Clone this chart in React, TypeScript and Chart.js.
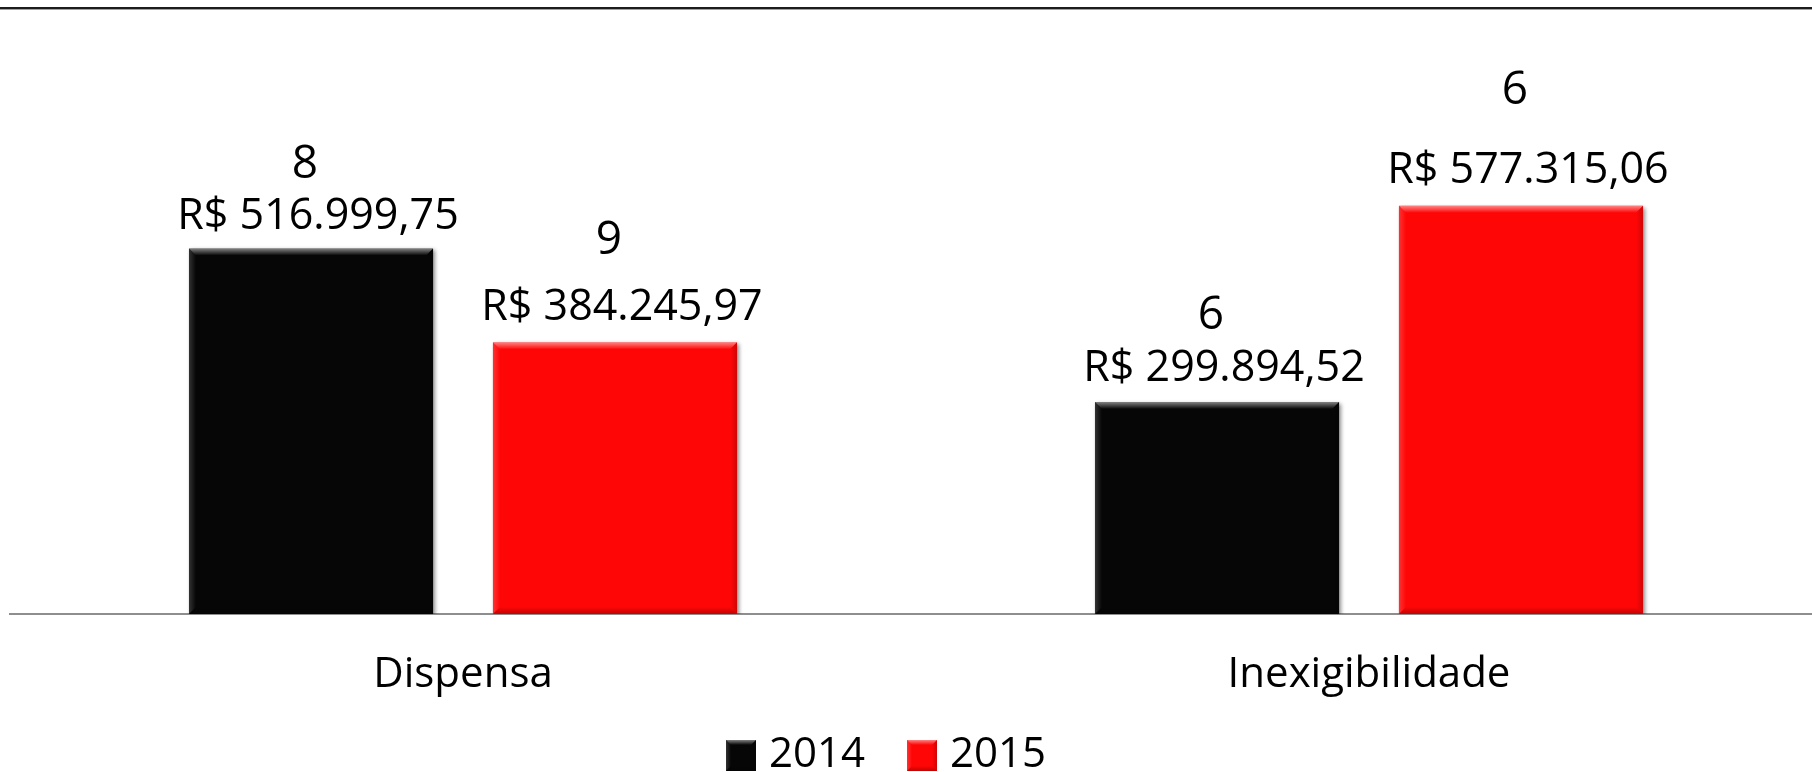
import React, { useEffect, useRef } from "react";
import { Chart, registerables } from "chart.js";

Chart.register(...registerables);

// ---- data ----
const categories = ["Dispensa", "Inexigibilidade"];
const years = ["2014", "2015"];
const amounts2014 = [516999.75, 299894.52];
const amounts2015 = [384245.97, 577315.06];
const counts2014 = [8, 6];
const counts2015 = [9, 6];
const countsBySeries = [counts2014, counts2015];
const seriesColors = ["#060606", "#ff0606"];

const FONT = "'Open Sans', 'Noto Sans', sans-serif";

function formatBRL(v: number): string {
  const [intPart, dec] = v.toFixed(2).split(".");
  const withDots = intPart.replace(/\B(?=(\d{3})+(?!\d))/g, ".");
  return `R$ ${withDots},${dec}`;
}

function drawBevel(ctx: CanvasRenderingContext2D, l: number, t: number, r: number, b: number, bv: number) {
  ctx.save();
  const gt = ctx.createLinearGradient(0, t, 0, t + bv);
  gt.addColorStop(0, "rgba(255,255,255,0.5)");
  gt.addColorStop(1, "rgba(255,255,255,0)");
  ctx.fillStyle = gt;
  ctx.beginPath();
  ctx.moveTo(l, t);
  ctx.lineTo(r, t);
  ctx.lineTo(r - bv, t + bv);
  ctx.lineTo(l + bv, t + bv);
  ctx.closePath();
  ctx.fill();
  const gl = ctx.createLinearGradient(l, 0, l + bv, 0);
  gl.addColorStop(0, "rgba(255,255,255,0.18)");
  gl.addColorStop(1, "rgba(255,255,255,0)");
  ctx.fillStyle = gl;
  ctx.beginPath();
  ctx.moveTo(l, t);
  ctx.lineTo(l + bv, t + bv);
  ctx.lineTo(l + bv, b - bv);
  ctx.lineTo(l, b);
  ctx.closePath();
  ctx.fill();
  const gr = ctx.createLinearGradient(r - bv, 0, r, 0);
  gr.addColorStop(0, "rgba(0,0,0,0)");
  gr.addColorStop(1, "rgba(0,0,0,0.18)");
  ctx.fillStyle = gr;
  ctx.beginPath();
  ctx.moveTo(r, t);
  ctx.lineTo(r - bv, t + bv);
  ctx.lineTo(r - bv, b - bv);
  ctx.lineTo(r, b);
  ctx.closePath();
  ctx.fill();
  const gb = ctx.createLinearGradient(0, b - bv, 0, b);
  gb.addColorStop(0, "rgba(0,0,0,0)");
  gb.addColorStop(1, "rgba(0,0,0,0.25)");
  ctx.fillStyle = gb;
  ctx.beginPath();
  ctx.moveTo(l, b);
  ctx.lineTo(r, b);
  ctx.lineTo(r - bv, b - bv);
  ctx.lineTo(l + bv, b - bv);
  ctx.closePath();
  ctx.fill();
  ctx.restore();
}

function makeSwatch(color: string): HTMLCanvasElement {
  const c = document.createElement("canvas");
  c.width = 30;
  c.height = 31;
  const ctx = c.getContext("2d") as CanvasRenderingContext2D;
  ctx.fillStyle = color;
  ctx.fillRect(0, 0, 30, 31);
  drawBevel(ctx, 0, 0, 30, 31, 5);
  return c;
}

const framePlugin = {
  id: "framePlugin",
  beforeDraw(chart: any) {
    const ctx = chart.ctx;
    ctx.save();
    ctx.fillStyle = "#ffffff";
    ctx.fillRect(0, 0, chart.width, chart.height);
    ctx.fillStyle = "#1c1c1c";
    ctx.fillRect(0, 7, chart.width, 2);
    ctx.fillStyle = "#a0a0a0";
    ctx.fillRect(0, 9, chart.width, 1);
    ctx.restore();
  },
};

const bevelPlugin = {
  id: "bevelPlugin",
  beforeDatasetsDraw(chart: any) {
    const ctx = chart.ctx;
    ctx.save();
    ctx.shadowColor = "rgba(0,0,0,0.45)";
    ctx.shadowBlur = 4;
    ctx.shadowOffsetX = 2;
    ctx.shadowOffsetY = 2;
  },
  afterDatasetsDraw(chart: any) {
    const ctx = chart.ctx;
    ctx.restore();
    chart.data.datasets.forEach((_ds: any, i: number) => {
      const meta = chart.getDatasetMeta(i);
      meta.data.forEach((el: any) => {
        const { x, y, base, width } = el.getProps(["x", "y", "base", "width"], true);
        drawBevel(ctx, x - width / 2, y, x + width / 2, base, 7);
      });
    });
  },
};

const valueLabelPlugin = {
  id: "valueLabels",
  afterDatasetsDraw(chart: any, _args: any, opts: any) {
    const ctx = chart.ctx;
    chart.data.datasets.forEach((ds: any, i: number) => {
      const meta = chart.getDatasetMeta(i);
      meta.data.forEach((el: any, j: number) => {
        const { x, y } = el.getProps(["x", "y"], true);
        ctx.save();
        ctx.fillStyle = "#000000";
        ctx.textAlign = "center";
        ctx.textBaseline = "alphabetic";
        ctx.font = `43px ${FONT}`;
        ctx.fillText(formatBRL(ds.data[j]), x + opts.amountShift, y - opts.amountLift[i][j]);
        ctx.font = `46px ${FONT}`;
        ctx.fillText(String(countsBySeries[i][j]), x + opts.countShift, y - opts.countLift[i][j]);
        ctx.restore();
      });
    });
  },
};

export default function App() {
  const canvasRef = useRef<HTMLCanvasElement | null>(null);

  useEffect(() => {
    document.body.style.margin = "0";
    const canvas = canvasRef.current;
    if (!canvas) return;
    const swatches = seriesColors.map((c) => makeSwatch(c));
    const chart = new Chart(canvas, {
      type: "bar",
      data: {
        labels: categories,
        datasets: [
          {
            label: years[0],
            data: amounts2014,
            backgroundColor: seriesColors[0],
            borderWidth: 0,
            categoryPercentage: 0.671,
            barPercentage: 0.803,
          },
          {
            label: years[1],
            data: amounts2015,
            backgroundColor: seriesColors[1],
            borderWidth: 0,
            categoryPercentage: 0.671,
            barPercentage: 0.803,
          },
        ],
      },
      options: {
        responsive: false,
        animation: false,
        devicePixelRatio: 1,
        events: [],
        layout: { padding: { top: 48.4, left: -42, right: 0, bottom: -14.4 } },
        scales: {
          x: {
            grid: { display: false, drawTicks: false },
            border: { display: true, color: "#8e8e8e", width: 2 },
            ticks: {
              color: "#000000",
              mirror: true,
              padding: -86.6,
              font: { family: FONT, size: 42 },
            },
            afterFit: (scale: any) => {
              scale.height = 70.4;
            },
          },
          y: {
            display: true,
            min: 0,
            max: 800000,
            ticks: { display: false },
            grid: { display: false, drawTicks: false },
            border: { display: false },
            afterFit: (scale: any) => {
              scale.width = 52;
            },
          },
        },
        plugins: {
          legend: {
            position: "bottom",
            labels: {
              color: "#000000",
              usePointStyle: true,
              pointStyleWidth: 14,
              boxHeight: 31,
              padding: 50,
              font: { family: FONT, size: 42 },
              generateLabels: (ch: any) => {
                const items = (Chart.defaults as any).plugins.legend.labels.generateLabels(ch);
                return items.map((it: any, i: number) => ({
                  ...it,
                  pointStyle: swatches[i],
                  lineWidth: 0,
                }));
              },
            },
          },
          tooltip: { enabled: false },
          valueLabels: {
            amountShift: 7,
            countShift: -6,
            amountLift: [
              [19, 21],
              [22, 23],
            ],
            countLift: [
              [70, 73],
              [88, 102],
            ],
          },
        } as any,
      },
      plugins: [framePlugin, bevelPlugin, valueLabelPlugin],
    });
    return () => chart.destroy();
  }, []);

  return (
    <div
      style={{
        position: "absolute",
        left: 0,
        top: 0,
        width: "1812px",
        height: "772px",
        overflow: "hidden",
        background: "#ffffff",
      }}
    >
      <canvas ref={canvasRef} width={1822} height={772} />
    </div>
  );
}
